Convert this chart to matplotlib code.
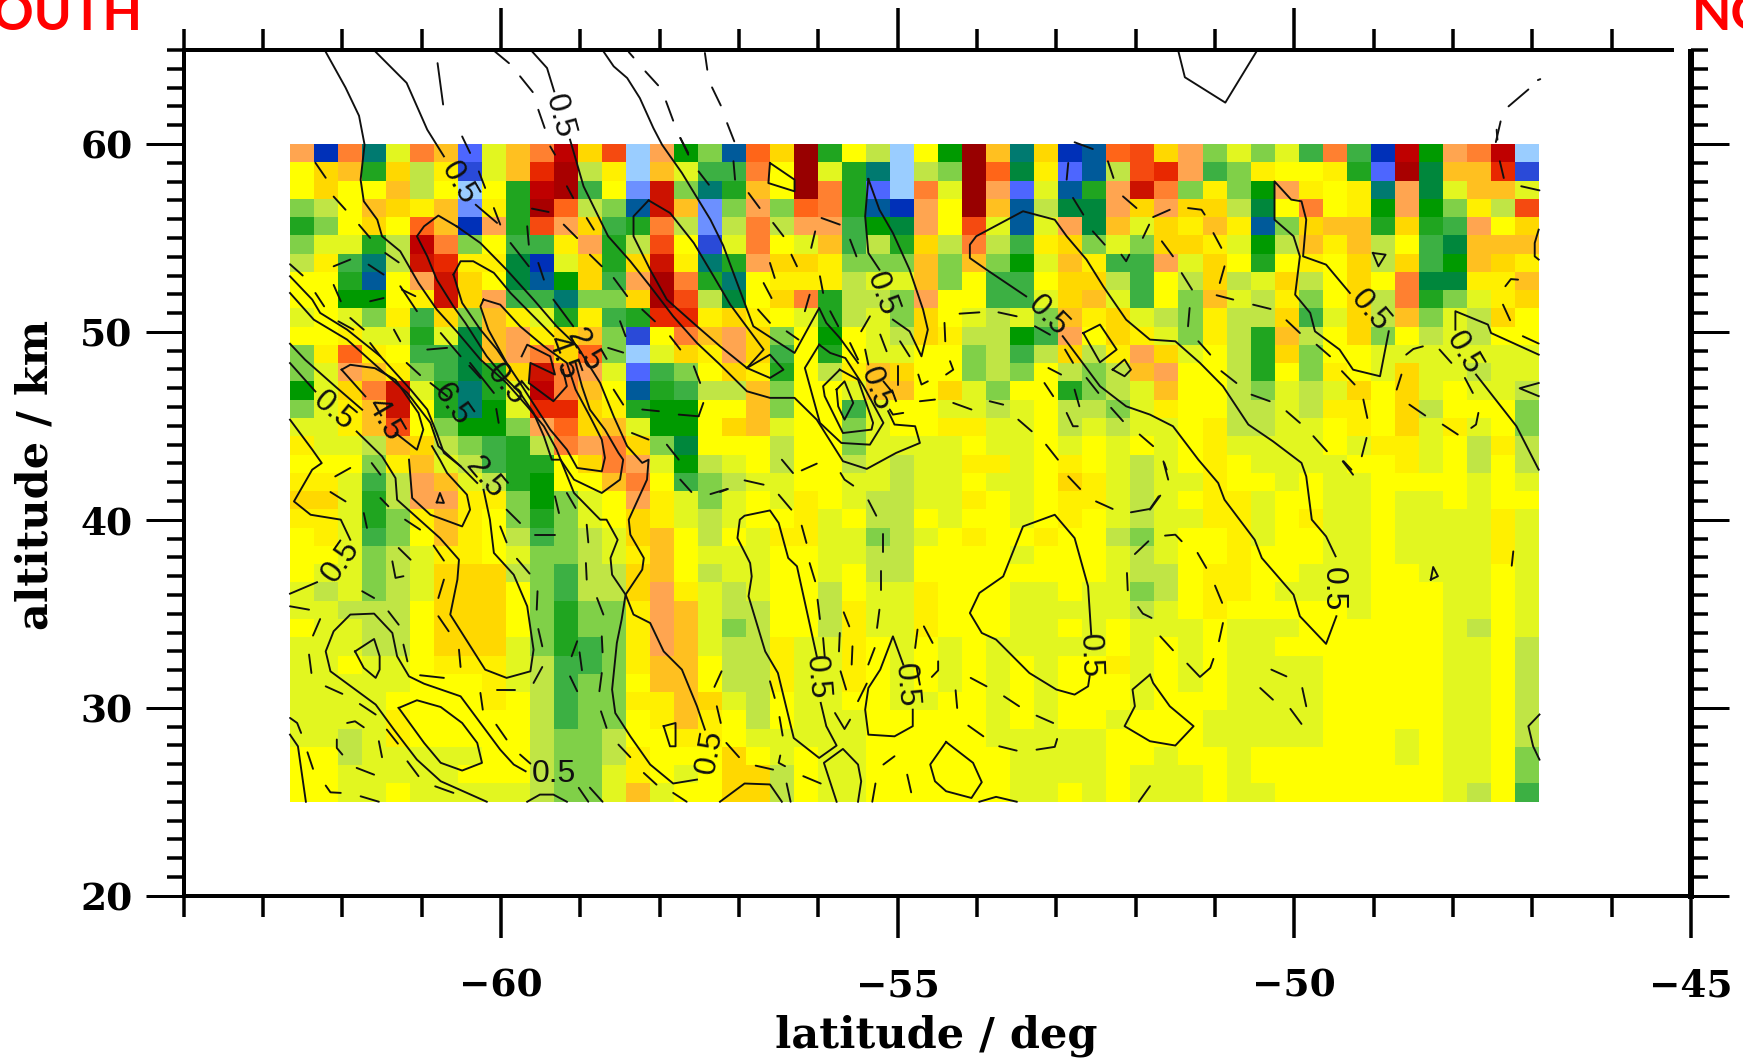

import matplotlib

matplotlib.use("Agg")
import matplotlib.pyplot as plt
import numpy as np
from matplotlib.colors import BoundaryNorm, ListedColormap
from matplotlib.ticker import FixedLocator

# colour classes, coldest to hottest; Y is the zero class
CLASS_CODES = "nmlkjihgfedcbaYABCDEFGHIJKL"
CLASS_COLORS = [
    "#9acdff", "#6c90ff", "#4d66ff", "#2a4ad8", "#0030b8", "#005a9a", "#007a70",
    "#00873c", "#009a00", "#20a520", "#3cb043", "#80d048", "#c0e545", "#e2f620",
    "#ffff00", "#fff000", "#ffd800", "#ffc020", "#ffa550", "#ff8030", "#ff6518",
    "#f54a10", "#e82800", "#cc1200", "#bf0000", "#a80000", "#980000",
]

# one string per altitude row, top (60 km) to bottom (25 km), 52 latitude bins
GRID_ROWS = [
    "DjEhaEClaCEJBGnDfci FBLeYbnYfLChBjiFG BDcacadEdjJfDEJn",
    "YBCeBbAkaCHKbAnCadd EYLaehnbcLFgAlibG HDdcAYYAelKgCCHk",
    "YBYYCbYnYeJKdYmIche CYLEelnEaLDlaieDI EcAcfDAYAhDgaCCa",
    "cbYCBACmAeKFbciICmc DcFEeijDYLCibggDB DBBbgYEYAfDfcAbG",
    "ecYBYFCjDeGDBdeEbmb EbDDdfgDYGaiaDgCa BACAicBCCeBedDYB",
    "caaebJEcYddADebGYka EYaCdbeBbEbdABcac BBAafbCACbYdgCCC",
    "bAdhbIHAAgjaBeBIAhe DBBAcccCcCcfaCAdd DaBYeYAYBbBdfCBA",
    "YYeiYDIBYgifBdDKEeh YAAAbaaCcYddYBBbd YbBbaBbYBYEggAAC",
    "YYffYAIBDddhccBKGbg YBEebbcDYYddaBCad YcCabAcYBbEecaAB",
    "aYacAdBcCAaeAdeHHAB AYaebacBYabacCABa bcAbbBdaBbCcabBY",
    "YYAaaeagCDABCckYECD BcYfYabBAbbfdDYBA acAbeCbYBcYbabYY",
    "cAFAYddgCDEBFcnaBAD BdYeYaaYYcbdbBbAD BaYbeBcYYaaaaaaa",
    "caDCAcdgeBIEDaldcYB AeYbACBYYcbcYbcbC DYYbeYcAYaBaabaa",
    "faBEIaeheaJECYiedbb CcYYaCCYBacYYecba CYYbcabaBYBaYaab",
    "caACIYehfaHHBAeffYY CcYYdaYYaabaYbbca AYYbbabAAYBbYYYc",
    "aaACGYcffcDFBCaffYB CaYYcaYYAAaaYbaba aYAbbaaYAYBaAaYc",
    "AaabCBbcdebEDEBcgYY YbYYcaaaaYaaYaYaY aYAaaaaYaAAaYbAb",
    "YYYcACabdeeYBEDafba YbYYbabaaAAaYAYab aYAYaaaaYYAaYbYb",
    "AAadbDCabefYYCEYdcb aaYYaabaaYaaYBAab aaAYYaYaaYYYYaYa",
    "BBaebDDAAcfcaYDAaca YaAYabbaaAYaYAAab aYAAaYYaaYaaYaYY",
    "AAaecACAYcecaYBAaba YYAaYbbYaYYaYAYab aaAAaYAaaYaaaaAa",
    "YAadcYCAYbdcbaBCYbY aAAaacbaYAYYAYYbc aYYAaYYaaYaaaaAa",
    "YYacbaAAYaccbaACYaa aYYaabbYYYYaYYYab aYYAYYYaaYaaaaAa",
    "YaacbaBBBbcdbbBCYba aYYaYbbYYYYYYYYab bYAAYYaaaYYaaaYa",
    "abacbaBBBYcdbbBDAab aYYbYaaAYYYaaYaac bYAAYaaaaYYYaaYa",
    "aabbbYBBBYceccADCab bYYbAaaAYYYaaaaab aYAYYYYYaYYYaaYa",
    "YaabbYBBBYceccADCac bYYbAaaAYYYaaYaYa aaYaaaYYYYYYabYa",
    "aaabbYBBBacedcADCab bAaaAYaYaYaaaaaYa YaYaaYYYYYYYaaYb",
    "aaYaaYAAAabddcACCYb bAaaAYaYaYaYaYYAa YaYaaaaYYYYYaaYb",
    "aaaaaYYYAabdccYCCYb bAaaAYaYaYaYaYYYa YaYaaaaYYYYYaaYb",
    "aaaaYYYYAYbdccAACBa bYaaYYaaYYaYaYYYa YYYaaaaYYYYYaaYb",
    "aaaaAYYYYYbdccYACAY bYaaaYYYYYaYaYYaY YYaaaaaYYYYYaaYb",
    "aabaAYYYYYbccbYYAAY aaaaaYYYYYaaaaaYY YYaaaaaYYYaYaaYb",
    "YYbaaaaaYYbccbAYYYB YaYaaYYYYYYaaaaYY aYYaYYYYYYaYaaYc",
    "YYaaaaaYYYbccaAYaYB BbYaaYYYYYYaaaaYa aaYaYYYYYYYYaaYc",
    "YYaaYaaaaabccaCaYYB BbYaaYYYYYYaaYaYa aaYaaYYYYYYYabYd",
]
LAT_EDGES = np.linspace(-62.66, -46.92, 53)
ALT_EDGES = np.linspace(60.0, 25.0, 37)

# contour lines as (latitude, altitude) traces
SOLID_LINES = [
    [(-62.21, 64.9), (-61.96, 63.0), (-61.79, 61.5), (-61.72, 59.96), (-61.77, 58.1), (-61.73, 56.95),
     (-61.56, 55.97), (-61.5, 55.09), (-61.27, 54.29), (-61.04, 52.6), (-60.81, 51.19), (-60.56, 50.03),
     (-60.26, 48.53), (-59.93, 47.28), (-59.67, 46.04), (-59.46, 44.98), (-59.3, 43.74), (-59.08, 41.43),
     (-58.75, 40.01), (-58.67, 40.01), (-58.53, 38.94), (-58.62, 37.97), (-58.6, 37.08), (-58.43, 36.02),
     (-58.48, 34.69), (-58.54, 33.45), (-58.6, 30.97), (-58.56, 29.72), (-58.37, 28.48), (-58.12, 26.98),
     (-57.83, 25.97), (-57.53, 26.18)],
    [(-57.43, 28.84), (-57.53, 30.08), (-57.72, 32.03), (-57.95, 33.0), (-58.12, 34.51), (-58.33, 34.96),
     (-58.43, 36.02), (-58.22, 37.35), (-58.2, 37.97), (-58.37, 39.21), (-58.39, 40.01), (-58.16, 42.14),
     (-58.14, 43.2), (-58.22, 43.03), (-58.41, 43.92), (-58.58, 45.51), (-58.75, 47.28), (-59.04, 49.24),
     (-59.3, 50.3), (-59.59, 51.72), (-59.93, 53.31), (-60.26, 54.73), (-60.56, 55.62)],
    [(-61.58, 64.9), (-61.19, 63.25), (-60.93, 60.76), (-60.72, 59.34)],
    [(-60.56, 55.62), (-60.79, 56.19), (-60.97, 55.62), (-61.06, 55.09), (-60.93, 54.02), (-60.81, 52.78),
     (-60.6, 51.36), (-60.45, 50.48), (-60.18, 48.7), (-59.97, 47.64), (-59.76, 46.75), (-59.59, 45.69),
     (-59.46, 44.45), (-59.36, 43.2), (-59.25, 43.2), (-59.08, 42.14), (-58.73, 41.43), (-58.5, 42.14),
     (-58.46, 43.2), (-58.52, 43.56), (-58.69, 44.8), (-58.88, 45.87), (-58.98, 47.11), (-59.06, 48.35)],
    [(-60.22, 51.72), (-60.01, 51.45), (-59.76, 50.3), (-59.46, 49.24), (-59.17, 48.35), (-59.06, 46.93),
     (-58.88, 45.51), (-58.73, 44.27), (-58.69, 43.3), (-58.73, 42.58), (-59.04, 42.76), (-59.17, 43.74),
     (-59.38, 44.8), (-59.76, 47.28), (-59.93, 48.35), (-60.16, 50.12), (-60.26, 51.36), (-60.22, 51.72)],
    [(-59.74, 48.7), (-59.67, 49.32), (-59.38, 48.7), (-59.32, 47.73), (-59.63, 48.35), (-59.65, 47.28),
     (-59.34, 46.31), (-59.17, 47.11), (-59.22, 47.99)],
    [(-60.6, 53.05), (-60.51, 53.76), (-60.35, 53.76), (-60.09, 53.14), (-59.88, 52.07), (-59.59, 50.83),
     (-59.34, 49.77)],
    [(-60.6, 53.05), (-60.49, 51.54), (-60.26, 50.12), (-60.05, 49.06), (-59.88, 47.99)],
    [(-62.66, 52.96), (-62.38, 51.72), (-62.28, 51.01), (-61.94, 50.12), (-61.52, 48.7), (-61.14, 46.93),
     (-60.93, 45.87), (-60.81, 44.62), (-60.72, 43.56), (-60.51, 42.85)],
    [(-60.22, 41.6), (-60.14, 40.01), (-60.09, 38.24), (-59.84, 37.08), (-59.67, 35.4), (-59.59, 33.09),
     (-59.63, 31.94), (-59.93, 31.59), (-60.2, 32.03), (-60.64, 34.96), (-60.55, 36.82), (-60.53, 37.88),
     (-60.77, 39.03), (-61.31, 41.07), (-61.33, 42.22), (-61.5, 43.38), (-61.82, 44.7)],
    [(-62.66, 48.34), (-62.34, 46.83)],
    [(-62.66, 49.37), (-62.47, 48.52), (-62.09, 47.1), (-61.75, 45.86)],
    [(-62.01, 47.99), (-61.9, 48.25), (-61.59, 48.07), (-61.33, 47.45), (-61.04, 45.68), (-60.98, 44.8),
     (-61.06, 43.73), (-61.33, 44.62)],
    [(-61.71, 46.57), (-62.01, 47.99)],
    [(-62.66, 52.07), (-62.36, 50.65), (-61.94, 49.59), (-61.52, 48.0), (-61.18, 46.75), (-60.89, 45.16),
     (-60.79, 43.92), (-60.51, 42.85), (-60.3, 41.96)],
    [(-61.16, 43.2), (-61.12, 41.16), (-60.89, 40.27), (-60.49, 39.65), (-60.39, 40.54), (-60.43, 41.34),
     (-60.68, 42.49), (-60.77, 43.2), (-60.87, 43.92)],
    [(-60.81, 40.93), (-60.77, 41.43), (-60.72, 40.9), (-60.81, 40.93)],
    [(-62.66, 36.07), (-62.32, 36.68)],
    [(-61.9, 38.94), (-62.02, 40.01), (-62.4, 40.27), (-62.61, 40.98), (-62.38, 42.67), (-62.26, 43.02),
     (-62.38, 43.74), (-62.66, 45.33)],
    [(-60.18, 25.0), (-60.76, 26.09), (-61.06, 27.24), (-61.35, 28.84), (-61.58, 30.17), (-62.15, 31.94),
     (-62.21, 33.0), (-62.11, 34.07), (-61.9, 34.96), (-61.6, 35.01), (-61.37, 33.98), (-61.31, 32.74),
     (-61.16, 31.67), (-60.97, 31.28), (-60.51, 30.61), (-60.26, 29.19), (-60.01, 27.77), (-59.84, 26.98),
     (-59.69, 26.62)],
    [(-59.67, 25.0), (-59.51, 25.38), (-59.34, 25.38), (-59.17, 25.0)],
    [(-61.84, 33.0), (-61.6, 33.66), (-61.53, 32.74), (-61.53, 32.03), (-61.58, 31.59), (-61.73, 32.12),
     (-61.84, 33.0)],
    [(-61.29, 29.99), (-61.06, 30.4), (-60.76, 30.04), (-60.49, 29.19), (-60.3, 28.13), (-60.24, 27.07),
     (-60.49, 26.66), (-60.76, 27.07), (-60.97, 28.13), (-61.29, 29.99)],
    [(-62.66, 28.57), (-62.56, 27.95), (-62.46, 25.0)],
    [(-57.95, 29.02), (-57.8, 29.19), (-57.8, 27.95), (-57.87, 27.95), (-57.95, 29.02)],
    [(-57.24, 25.0), (-56.93, 25.97), (-56.61, 25.92), (-56.46, 25.0)],
    [(-56.02, 32.74), (-56.27, 37.53), (-56.38, 37.97), (-56.5, 39.83), (-56.61, 40.5), (-56.93, 40.22),
     (-56.99, 40.01), (-57.02, 39.03), (-56.86, 37.7), (-56.84, 36.99), (-56.88, 35.93), (-56.67, 33.0),
     (-56.51, 31.85), (-56.31, 28.39), (-55.99, 27.33), (-55.77, 27.99), (-55.9, 29.02), (-55.97, 30.26)],
    [(-55.5, 25.0), (-55.46, 26.09), (-55.5, 26.98), (-55.69, 27.81), (-55.93, 27.07), (-55.77, 25.0)],
    [(-54.93, 32.3), (-55.06, 33.8), (-55.22, 32.03), (-55.37, 31.05), (-55.41, 29.9), (-55.37, 28.57),
     (-55.04, 28.48), (-54.81, 29.02), (-54.81, 29.9)],
    [(-54.39, 28.18), (-54.05, 27.07), (-53.94, 26.04), (-54.07, 25.2), (-54.39, 25.56), (-54.53, 26.09),
     (-54.59, 26.98), (-54.39, 28.18)],
    [(-53.97, 25.0), (-53.76, 25.26), (-53.5, 25.0)],
    [(-52.56, 33.89), (-52.6, 36.46), (-52.77, 39.03), (-53.02, 40.27), (-53.42, 39.65), (-53.67, 36.99),
     (-53.97, 36.11), (-54.09, 35.04), (-53.94, 33.98), (-53.76, 33.63), (-53.34, 31.85), (-53.0, 30.97),
     (-52.77, 30.7), (-52.6, 31.14), (-52.58, 31.68)],
    [(-51.82, 31.76), (-52.04, 30.97), (-52.01, 30.08), (-52.14, 29.02), (-51.82, 28.22), (-51.5, 27.99),
     (-51.27, 29.02), (-51.57, 30.08), (-51.78, 31.32), (-51.82, 31.76)],
    [(-52.92, 49.77), (-52.45, 47.11), (-52.12, 46.04), (-51.82, 45.6), (-51.53, 44.98), (-51.21, 43.2),
     (-50.96, 41.96), (-50.88, 41.07), (-50.5, 38.94), (-50.41, 37.97), (-50.01, 36.02), (-49.93, 34.87),
     (-49.6, 33.4), (-49.47, 34.87)],
    [(-49.48, 38.06), (-49.6, 39.12), (-49.78, 40.01), (-49.85, 42.31), (-49.91, 43.03), (-50.27, 44.18),
     (-50.58, 45.07), (-50.9, 47.11), (-51.19, 48.35), (-51.5, 49.5), (-51.82, 49.59), (-52.12, 50.65),
     (-52.41, 52.43), (-52.62, 53.85), (-52.87, 55.09), (-53.02, 55.97), (-53.42, 56.42), (-54.01, 55.09),
     (-54.09, 54.64), (-54.09, 53.93), (-53.88, 53.31), (-53.38, 51.89)],
    [(-55.37, 58.14), (-55.41, 56.15), (-55.37, 54.2), (-55.23, 53.31)],
    [(-55.06, 50.65), (-54.85, 50.03), (-54.7, 48.7), (-54.62, 50.12), (-54.68, 51.19), (-54.85, 53.31),
     (-55.06, 55.26), (-55.23, 56.5), (-55.37, 58.14)],
    [(-56.61, 58.99), (-56.3, 58.1), (-56.3, 57.48), (-56.63, 57.92), (-56.61, 58.99)],
    [(-58.71, 64.93), (-58.58, 64.13), (-58.41, 63.51), (-58.25, 62.44), (-58.08, 60.85), (-57.97, 59.96),
     (-57.72, 58.46), (-57.36, 55.97), (-57.2, 54.6), (-57.05, 52.9),
     (-56.82, 50.3), (-56.3, 48.88), (-55.99, 51.27), (-55.9, 50.48), (-55.73, 49.68), (-55.5, 48.35)],
    [(-55.99, 49.32), (-55.85, 48.88), (-55.66, 48.61), (-55.43, 47.11), (-55.18, 45.16), (-55.35, 44.0),
     (-55.71, 44.09), (-55.98, 45.16), (-56.17, 48.08), (-55.99, 49.32)],
    [(-55.73, 47.99), (-55.94, 47.11), (-55.92, 46.58), (-55.69, 44.62), (-55.33, 44.8), (-55.31, 45.16),
     (-55.5, 47.46), (-55.73, 47.99)],
    [(-55.77, 46.93), (-55.67, 47.37), (-55.56, 46.22), (-55.67, 45.33), (-55.75, 46.04), (-55.77, 46.93)],
    [(-59.61, 64.93), (-59.42, 64.04), (-59.33, 62.8)],
    [(-59.13, 60.23), (-58.96, 57.75), (-58.65, 55.09), (-58.37, 53.76), (-58.12, 52.43), (-57.83, 50.83),
     (-57.53, 49.41), (-57.24, 48.26), (-56.9, 46.84), (-56.61, 46.49), (-56.3, 46.49), (-56.02, 45.33),
     (-55.69, 43.12), (-55.39, 42.71), (-55.02, 43.56), (-54.72, 44.09), (-54.78, 44.98), (-55.04, 45.07),
     (-55.12, 45.78)],
    [(-58.14, 57.0), (-57.87, 56.33), (-57.57, 54.73), (-57.32, 52.96), (-57.11, 51.45), (-56.69, 49.06),
     (-56.9, 48.08)],
    [(-58.14, 57.0), (-58.33, 56.15), (-58.33, 55.09), (-58.12, 53.31), (-57.91, 51.72), (-57.53, 50.3),
     (-57.24, 49.24), (-56.9, 48.08), (-56.61, 47.55), (-56.44, 47.99), (-56.61, 48.79), (-56.9, 48.08)],
    [(-52.66, 49.94), (-52.45, 50.39), (-52.24, 49.06), (-52.45, 48.38), (-52.66, 49.94)],
    [(-52.29, 47.99), (-52.14, 48.53), (-52.06, 47.99), (-52.14, 47.64), (-52.29, 47.99)],
    [(-49.3, 52.07), (-49.6, 53.58), (-49.89, 54.02), (-49.85, 55.97), (-49.91, 56.95), (-50.04, 57.04),
     (-50.25, 58.01), (-50.25, 55.97), (-50.01, 55.09), (-49.93, 54.02), (-49.99, 51.98), (-49.8, 51.01),
     (-49.74, 50.03), (-49.43, 49.06), (-49.26, 47.99), (-48.92, 47.64), (-48.81, 50.03)],
    [(-47.97, 50.12), (-47.97, 51.1), (-47.56, 50.39), (-47.52, 49.94), (-46.92, 48.79)],
    [(-47.71, 47.73), (-47.2, 44.98), (-46.92, 42.67)],
    [(-46.92, 55.44), (-46.97, 54.73), (-46.97, 54.02), (-46.92, 53.85)],
    [(-46.92, 47.28), (-47.16, 47.0), (-46.92, 46.58)],
    [(-49.01, 54.2), (-48.85, 54.11), (-48.94, 53.49), (-49.01, 54.2)],
    [(-48.28, 36.82), (-48.25, 37.49), (-48.19, 37.0), (-48.28, 36.82)],
    [(-46.91, 29.64), (-47.05, 29.02), (-46.99, 27.95), (-46.91, 27.24)],
    [(-51.46, 64.9), (-51.38, 63.55), (-50.87, 62.2), (-50.48, 64.9)],
]

# dashes of the negative contours, each a short (latitude, altitude) trace
DASHES = [
    [(-60.8, 64.3), (-60.73, 62.1)], [(-60.08, 64.93), (-59.9, 64.3)], [(-59.76, 63.6), (-59.6, 62.76)],
    [(-59.53, 61.82), (-59.45, 60.85)], [(-59.38, 59.87), (-59.32, 59.43)], [(-58.39, 64.89), (-58.33, 64.6)],
    [(-58.18, 63.86), (-58.02, 63.12)], [(-57.92, 62.27), (-57.83, 61.24)], [(-57.74, 60.32), (-57.64, 59.43)],
    [(-57.43, 64.84), (-57.4, 63.95)], [(-57.34, 63.01), (-57.23, 62.05)], [(-57.15, 61.11), (-57.06, 60.14)],
    [(-47.46, 60.1), (-47.4, 61.2)], [(-47.3, 62.0), (-47.05, 62.9)], [(-46.93, 63.4), (-46.9, 63.45)],
    [(-62.34, 59.0), (-62.21, 58.2)], [(-62.11, 57.2), (-61.96, 56.5)], [(-61.79, 55.7), (-61.65, 55.0)],
    [(-61.46, 54.2), (-61.29, 53.7)], [(-61.25, 52.25), (-61.08, 51.9)], [(-62.66, 53.6), (-62.5, 53.0)],
    [(-62.34, 52.07), (-62.23, 51.36)], [(-62.05, 50.56), (-61.86, 50.12)], [(-61.65, 49.41), (-61.52, 48.7)],
    [(-62.11, 53.49), (-61.9, 53.85)], [(-61.67, 53.58), (-61.48, 53.05)], [(-62.11, 52.5), (-62.02, 51.63)],
    [(-61.65, 51.63), (-61.48, 51.8)], [(-61.9, 50.74), (-61.73, 50.12)], [(-61.35, 50.12), (-61.27, 49.5)],
    [(-61.19, 48.35), (-61.02, 47.7)], [(-60.89, 47.28), (-60.68, 46.58)], [(-61.27, 52.43), (-61.06, 51.1)],
    [(-60.76, 49.94), (-60.51, 48.7)], [(-60.4, 48.2), (-60.26, 47.55)], [(-60.93, 49.06), (-60.68, 49.15)],
    [(-60.39, 48.35), (-60.09, 46.75)], [(-60.06, 45.9), (-60.03, 45.16)], [(-59.88, 54.73), (-59.65, 53.49)],
    [(-59.34, 51.72), (-59.09, 50.3)], [(-60.09, 56.59), (-60.01, 55.71)], [(-59.67, 55.62), (-59.65, 54.64)],
    [(-59.53, 53.67), (-59.46, 52.78)], [(-59.21, 55.71), (-59.04, 54.99)], [(-58.92, 56.06), (-58.83, 55.44)],
    [(-58.88, 54.11), (-58.73, 53.49)], [(-58.58, 52.87), (-58.41, 51.9)], [(-57.74, 60.32), (-57.64, 59.52)],
    [(-57.51, 58.54), (-57.38, 57.83)], [(-60.49, 60.4), (-60.39, 59.52)], [(-60.28, 58.54), (-60.2, 57.66)],
    [(-60.32, 56.77), (-60.05, 55.8)], [(-59.61, 56.56), (-59.4, 56.38)], [(-59.17, 57.75), (-59.09, 57.12)],
    [(-58.22, 51.19), (-58.06, 50.56)], [(-57.87, 49.77), (-57.74, 49.06)], [(-57.57, 48.17), (-57.49, 47.28)],
    [(-58.5, 50.57), (-58.43, 49.77)], [(-58.22, 45.87), (-58.01, 45.78)], [(-57.76, 45.6), (-57.51, 45.51)],
    [(-57.51, 45.51), (-57.45, 46.22)], [(-58.65, 49.15), (-58.46, 48.9)], [(-58.58, 46.93), (-58.46, 46.13)],
    [(-58.35, 44.62), (-58.14, 44.27)], [(-57.91, 44.0), (-57.76, 43.2)],
    [(-56.88, 57.39), (-56.74, 56.59)], [(-56.57, 55.8), (-56.44, 55.09)], [(-55.96, 56.06), (-55.73, 55.71)],
    [(-56.04, 55.35), (-56.09, 54.47)], [(-55.6, 54.91), (-55.52, 54.02)], [(-56.34, 54.11), (-56.27, 53.49)],
    [(-56.61, 53.67), (-56.55, 52.87)], [(-56.69, 52.6), (-56.59, 51.8)], [(-55.98, 52.96), (-55.94, 52.07)],
    [(-56.11, 51.98), (-56.17, 51.1)], [(-56.76, 51.19), (-56.61, 50.48)], [(-56.4, 50.03), (-56.25, 49.59)],
    [(-55.85, 51.1), (-55.75, 50.3)], [(-55.6, 49.41), (-55.5, 48.53)], [(-55.35, 50.83), (-55.46, 50.03)],
    [(-55.22, 49.86), (-55.14, 48.97)], [(-54.97, 49.5), (-54.85, 48.7)], [(-55.41, 49.06), (-55.37, 48.26)],
    [(-55.0, 48.17), (-55.0, 47.2)], [(-55.18, 47.37), (-55.06, 46.75)], [(-55.1, 45.87), (-55.06, 45.6), (-54.93, 45.69)],
    [(-54.74, 47.73), (-54.7, 47.2), (-54.62, 47.37)], [(-54.34, 48.44), (-54.3, 47.99), (-54.39, 47.73)],
    [(-54.41, 50.48), (-54.4, 49.5)], [(-54.22, 50.97), (-53.97, 51.04)], [(-53.73, 51.04), (-53.5, 50.83)],
    [(-54.72, 46.31), (-54.53, 46.4)], [(-54.3, 46.22), (-54.07, 45.87)], [(-53.84, 46.31), (-53.67, 46.13)],
    [(-53.48, 45.33), (-53.31, 44.71)], [(-53.13, 44.0), (-52.98, 43.2)], [(-53.1, 48.08), (-52.94, 47.73)],
    [(-53.15, 47.28), (-53.04, 46.58)], [(-53.27, 50.3), (-53.08, 49.85)], [(-52.89, 49.06), (-52.79, 48.35)],
    [(-52.62, 47.55), (-52.47, 46.75)], [(-52.77, 46.93), (-52.71, 46.04)], [(-52.87, 45.69), (-52.79, 44.98), (-52.73, 44.98)],
    [(-52.31, 45.96), (-52.16, 45.25)], [(-51.95, 44.54), (-51.78, 43.92)], [(-51.64, 43.03), (-51.61, 42.67)],
    [(-52.54, 55.35), (-52.39, 54.64)], [(-52.79, 57.13), (-52.66, 56.24)], [(-52.35, 59.08), (-52.28, 58.19)],
    [(-52.85, 58.99), (-52.87, 58.1)], [(-52.77, 60.09), (-52.54, 59.73)], [(-52.16, 57.21), (-51.99, 56.59)],
    [(-51.57, 56.5), (-51.78, 56.11)], [(-51.83, 55.71), (-51.91, 55.0)], [(-52.18, 54.11), (-52.12, 53.76), (-52.08, 54.11)],
    [(-57.07, 59.08), (-57.05, 58.1)], [(-51.34, 56.59), (-51.17, 56.5), (-51.13, 56.24)],
    [(-51.02, 55.26), (-50.92, 54.47)], [(-50.88, 53.49), (-50.94, 52.6)], [(-51.67, 54.82), (-51.53, 54.02)],
    [(-51.42, 53.13), (-51.29, 52.25)], [(-50.98, 51.95), (-50.77, 51.72)], [(-50.52, 51.45), (-50.3, 51.22)],
    [(-51.32, 51.27), (-51.34, 50.3)], [(-50.1, 50.62), (-49.93, 49.94)], [(-51.21, 49.5), (-51.06, 48.79)],
    [(-50.92, 47.91), (-50.73, 47.28)], [(-50.54, 46.66), (-50.31, 46.31)], [(-50.1, 45.78), (-49.93, 45.16)],
    [(-49.76, 44.45), (-49.59, 43.65)], [(-49.72, 49.32), (-49.55, 48.7)], [(-49.4, 47.91), (-49.24, 47.2)],
    [(-49.13, 46.4), (-49.08, 45.42)], [(-49.09, 44.36), (-49.15, 43.38)], [(-49.38, 43.12), (-49.28, 42.67)],
    [(-48.65, 47.73), (-48.71, 46.93)], [(-48.59, 48.79), (-48.5, 49.09), (-48.38, 49.23)], [(-48.55, 46.13), (-48.35, 45.55)],
    [(-48.17, 49.06), (-48.02, 48.35)], [(-48.13, 45.07), (-47.94, 44.54)], [(-47.85, 47.55), (-47.75, 46.75)],
    [(-47.68, 45.69), (-47.71, 45.07), (-47.77, 44.89)], [(-47.37, 51.45), (-47.28, 50.62)],
    [(-47.34, 52.43), (-47.27, 52.81), (-47.18, 52.78)], [(-47.12, 49.77), (-46.92, 49.38)], [(-47.14, 57.75), (-46.91, 57.53)],
    [(-47.41, 59.08), (-47.36, 58.19)], [(-47.45, 60.76), (-47.44, 60.23)],
    [(-62.09, 42.31), (-61.9, 42.76)], [(-62.15, 41.48), (-61.96, 40.98)], [(-61.73, 40.36), (-61.69, 39.57)],
    [(-61.63, 43.02), (-61.52, 42.4)], [(-61.52, 41.16), (-61.42, 40.72)], [(-61.21, 40.01), (-61.02, 39.48)],
    [(-61.29, 38.5), (-61.14, 37.88)], [(-61.37, 37.79), (-61.33, 36.91), (-61.23, 37.0)], [(-61.75, 36.2), (-61.6, 35.84)],
    [(-62.66, 35.4), (-62.42, 35.22)], [(-62.28, 34.72), (-62.37, 33.84)], [(-62.42, 32.83), (-62.39, 31.85)],
    [(-61.42, 35.13), (-61.29, 34.42)], [(-61.23, 33.36), (-61.18, 32.47)], [(-62.21, 31.14), (-62.0, 30.74)],
    [(-61.78, 30.2), (-61.58, 29.64)], [(-61.94, 29.19), (-61.84, 29.28), (-61.73, 28.96)],
    [(-62.66, 29.46), (-62.57, 29.19), (-62.52, 28.66)], [(-62.07, 28.31), (-62.07, 27.86), (-62.0, 27.51)],
    [(-61.54, 28.22), (-61.5, 27.37)], [(-62.44, 27.63), (-62.37, 26.75)], [(-61.82, 26.8), (-61.6, 26.44)],
    [(-62.21, 25.86), (-62.15, 25.5), (-62.02, 25.47)], [(-61.77, 25.29), (-61.54, 25.0)], [(-61.44, 28.84), (-61.3, 28.09)],
    [(-61.18, 27.15), (-61.04, 26.36)], [(-61.02, 31.73), (-60.72, 31.59)], [(-60.83, 25.82), (-60.6, 25.47)],
    [(-60.26, 30.79), (-60.23, 29.9)], [(-60.05, 30.97), (-59.82, 30.97)], [(-60.06, 29.1), (-59.93, 28.31)],
    [(-59.76, 27.51), (-59.63, 27.03)], [(-60.72, 36.82), (-60.79, 35.84)], [(-60.79, 34.87), (-60.66, 34.07)],
    [(-60.53, 33.09), (-60.51, 32.17)], [(-60.85, 38.63), (-60.72, 37.83)], [(-60.01, 39.65), (-59.93, 38.8)],
    [(-59.93, 40.54), (-59.76, 39.83)], [(-59.8, 37.93), (-59.64, 37.14)], [(-59.57, 39.21), (-59.32, 39.21)],
    [(-59.54, 36.2), (-59.55, 35.22)], [(-59.53, 34.19), (-59.48, 33.27)], [(-59.48, 32.17), (-59.59, 31.32)],
    [(-59.32, 41.25), (-59.27, 40.36)], [(-59.17, 41.43), (-59.06, 40.63)], [(-58.92, 39.74), (-58.9, 38.8)],
    [(-58.93, 37.7), (-58.92, 36.82)], [(-58.79, 35.84), (-58.71, 34.96)], [(-58.73, 33.8), (-58.72, 32.95)],
    [(-58.73, 31.85), (-58.76, 30.88)], [(-58.74, 29.81), (-58.67, 28.93)], [(-58.52, 28.04), (-58.37, 27.37)],
    [(-58.2, 26.53), (-58.04, 25.91)], [(-57.83, 25.47), (-57.66, 25.0)], [(-59.04, 33.54), (-59.11, 32.74)],
    [(-59.01, 32.95), (-58.98, 32.0)], [(-59.13, 31.67), (-59.04, 30.88)], [(-59.02, 25.74), (-58.9, 25.0)],
    [(-58.88, 25.75), (-58.72, 25.0)], [(-57.74, 42.14), (-57.6, 41.48)], [(-57.36, 41.37), (-57.15, 41.64)],
    [(-57.22, 31.94), (-57.31, 31.11)], [(-57.28, 30.08), (-57.23, 29.19)],
    [(-56.46, 43.2), (-56.32, 42.49)], [(-56.21, 42.63), (-56.02, 42.99)], [(-56.93, 42.1), (-56.69, 41.87)],
    [(-57.24, 41.48), (-57.14, 41.64)], [(-56.5, 41.34), (-56.34, 40.54)], [(-56.21, 39.69), (-56.15, 38.77)],
    [(-56.11, 37.7), (-56.04, 36.73)], [(-56.01, 35.75), (-55.98, 34.72)], [(-55.94, 33.71), (-55.92, 32.74)],
    [(-55.73, 33.98), (-55.74, 33.0)], [(-55.68, 35.08), (-55.61, 34.33)], [(-55.57, 33.27), (-55.58, 32.3)],
    [(-55.72, 31.94), (-55.65, 30.97)], [(-55.39, 31.29), (-55.5, 30.35)], [(-55.29, 33.18), (-55.37, 32.3)],
    [(-55.72, 42.49), (-55.67, 42.14), (-55.56, 41.82)], [(-55.37, 41.04), (-55.27, 40.22)], [(-55.18, 39.26), (-55.18, 38.27)],
    [(-55.21, 37.26), (-55.21, 36.29)], [(-55.23, 35.22), (-55.26, 34.25)], [(-54.75, 34.16), (-54.78, 33.18)],
    [(-54.67, 34.33), (-54.56, 33.45)], [(-54.49, 32.47), (-54.49, 31.99), (-54.57, 31.64)], [(-54.76, 32.12), (-54.72, 31.23)],
    [(-54.27, 30.93), (-54.25, 29.99)], [(-54.08, 31.59), (-53.88, 31.14)], [(-53.66, 30.61), (-53.47, 30.08)],
    [(-53.25, 29.58), (-53.04, 29.19)], [(-54.11, 29.05), (-53.92, 28.48)], [(-53.72, 27.95), (-53.5, 27.72)],
    [(-53.25, 27.77), (-53.02, 27.92), (-52.99, 28.34)], [(-55.79, 29.72), (-55.67, 28.87), (-55.6, 29.37)],
    [(-56.61, 31.41), (-56.55, 30.52)], [(-56.49, 29.51), (-56.45, 28.52)], [(-57.16, 28.13), (-57.0, 27.37)],
    [(-56.79, 26.92), (-56.57, 26.71)], [(-56.48, 27.46), (-56.5, 27.07), (-56.42, 26.89)], [(-56.4, 25.97), (-56.35, 25.0)],
    [(-56.19, 26.36), (-55.97, 25.97)], [(-55.18, 26.98), (-55.04, 27.42)], [(-54.88, 26.44), (-54.83, 25.5)],
    [(-55.28, 25.97), (-55.32, 25.0)], [(-52.85, 42.31), (-52.7, 41.64)], [(-52.5, 40.98), (-52.29, 40.58)],
    [(-52.06, 40.4), (-51.82, 40.58), (-51.71, 41.25)], [(-51.84, 38.86), (-52.01, 38.18)], [(-52.11, 37.17), (-52.1, 36.25)],
    [(-51.97, 35.36), (-51.91, 35.01), (-51.8, 34.78)], [(-51.69, 33.8), (-51.53, 33.06)], [(-51.82, 25.83), (-51.96, 25.0)],
    [(-49.39, 43.11), (-49.26, 42.4)], [(-51.65, 43.11), (-51.59, 42.14)], [(-51.69, 41.29), (-51.82, 40.54)],
    [(-51.63, 39.16), (-51.5, 39.21), (-51.42, 38.86)], [(-51.22, 38.24), (-51.11, 37.44)], [(-51.0, 36.5), (-50.91, 35.58)],
    [(-50.9, 34.51), (-50.95, 33.54)], [(-51.35, 32.35), (-51.19, 31.64), (-51.06, 32.12), (-51.02, 32.6)],
    [(-50.29, 32.03), (-50.1, 31.67)], [(-50.43, 31.05), (-50.27, 30.43)], [(-49.9, 31.05), (-49.85, 30.08)],
    [(-50.05, 29.94), (-49.91, 29.14)], [(-47.24, 38.32), (-47.26, 37.56)],
]

CONTOUR_LABELS = [
    ("0.5", -59.27, 61.47, -75), ("0.5", -60.53, 57.93, -60), ("0.5", -55.2, 52.0, -70),
    ("0.5", -53.11, 50.83, -45), ("0.5", -49.05, 51.12, -50), ("0.5", -47.87, 48.88, -60),
    ("0.5", -55.28, 46.98, -70), ("0.5", -62.11, 45.77, -40), ("4.5", -61.47, 45.38, -60),
    ("6.5", -60.62, 46.13, -55), ("0.5", -59.93, 47.2, -50), ("2.5", -60.21, 42.25, -50),
    ("2.5", -58.95, 49.05, -60), ("4.5", -59.23, 48.64, -70), ("0.5", -62.02, 37.81, 55),
    ("0.5", -49.52, 36.33, -90), ("0.5", -52.58, 32.78, -88), ("0.5", -54.9, 31.18, -85),
    ("0.5", -56.02, 31.6, -85), ("0.5", -57.37, 27.63, 80), ("0.5", -59.34, 26.45, 0),
]

X_MAJOR = [-60, -55, -50, -45]
X_MINOR = list(range(-64, -45))
Y_MAJOR = [20, 30, 40, 50, 60]
Y_MINOR = list(range(20, 66))

PX = 0.72  # points per pixel at dpi 100
AXIS_FONT = "DejaVu Serif"

fig = plt.figure(figsize=(17.43, 10.61), dpi=100, facecolor="white")
ax = fig.add_axes([183.7 / 1743, 1 - 895.7 / 1061, (1691 - 183.7) / 1743, (895.7 - 50) / 1061])

grid = np.array(
    [[CLASS_CODES.index(c) for c in row.replace(" ", "")] for row in GRID_ROWS]
)
cmap = ListedColormap(CLASS_COLORS)
norm = BoundaryNorm(np.arange(len(CLASS_COLORS) + 1) - 0.5, cmap.N)
ax.pcolormesh(LAT_EDGES, ALT_EDGES, grid, cmap=cmap, norm=norm, antialiased=False, linewidth=0)

for trace in SOLID_LINES:
    lats, alts = zip(*trace)
    ax.plot(lats, alts, color="#101010", lw=1.9 * PX, solid_joinstyle="round")
for trace in DASHES:
    lats, alts = zip(*trace)
    ax.plot(lats, alts, color="#101010", lw=1.9 * PX, solid_capstyle="round")
for text, lat, alt, rot in CONTOUR_LABELS:
    ax.text(lat, alt, text, rotation=rot, ha="center", va="center", rotation_mode="anchor",
            fontsize=23, family="Liberation Sans", color="#101010")

ax.set_xlim(-64, -45)
ax.set_ylim(20, 65)
ax.xaxis.set_major_locator(FixedLocator(X_MAJOR))
ax.xaxis.set_minor_locator(FixedLocator([v for v in X_MINOR if v not in X_MAJOR]))
ax.yaxis.set_major_locator(FixedLocator(Y_MAJOR))
ax.yaxis.set_minor_locator(FixedLocator([v for v in Y_MINOR if v not in Y_MAJOR]))
ax.set_xticklabels(["\u221260", "\u221255", "\u221250", "\u221245"])
ax.set_yticklabels([str(v) for v in Y_MAJOR])

ax.tick_params(axis="x", which="major", direction="out", top=True, bottom=True,
               length=42 * PX, width=3.5 * PX, pad=30 * PX)
ax.tick_params(axis="x", which="minor", direction="out", top=True, bottom=True,
               length=21 * PX, width=3.5 * PX)
ax.tick_params(axis="y", which="major", direction="out", left=True, right=True,
               length=38 * PX, width=3.0 * PX, pad=13 * PX)
ax.tick_params(axis="y", which="minor", direction="out", left=True, right=True,
               length=17 * PX, width=3.5 * PX)
for label in ax.get_xticklabels() + ax.get_yticklabels():
    label.set_fontsize(27)
    label.set_family(AXIS_FONT)
    label.set_fontweight("bold")
# no top tick at the right end of the latitude axis
ax.xaxis.get_major_ticks()[-1].tick2line.set_visible(False)

for side in ["top", "bottom", "left"]:
    ax.spines[side].set_linewidth(4 * PX)
ax.spines["right"].set_linewidth(6 * PX)
ax.spines["top"].set_bounds(-64, -45.24)
ax.spines["right"].set_bounds(20, 64.9)

xlabel = ax.set_xlabel("latitude / deg", fontsize=31, family=AXIS_FONT, fontweight="bold")
ylabel = ax.set_ylabel("altitude / km", fontsize=31, family=AXIS_FONT, fontweight="bold")
xlabel.set_va("center")
ylabel.set_va("center")
ax.xaxis.set_label_coords(0.499, -0.166)
ax.yaxis.set_label_coords(-0.098, 0.497)

# side markers, cut by the edge of the picture
fig.text(143 / 1743, 1 - 30 / 1061, "SOUTH", color="#ff0000", fontsize=37, family="Lato",
         fontweight="bold", ha="right", va="baseline")
fig.text(1692 / 1743, 1 - 30 / 1061, "NORTH", color="#ff0000", fontsize=37, family="Lato",
         fontweight="bold", ha="left", va="baseline")

fig.savefig("out.png", dpi=100, facecolor="white")
plt.close(fig)
